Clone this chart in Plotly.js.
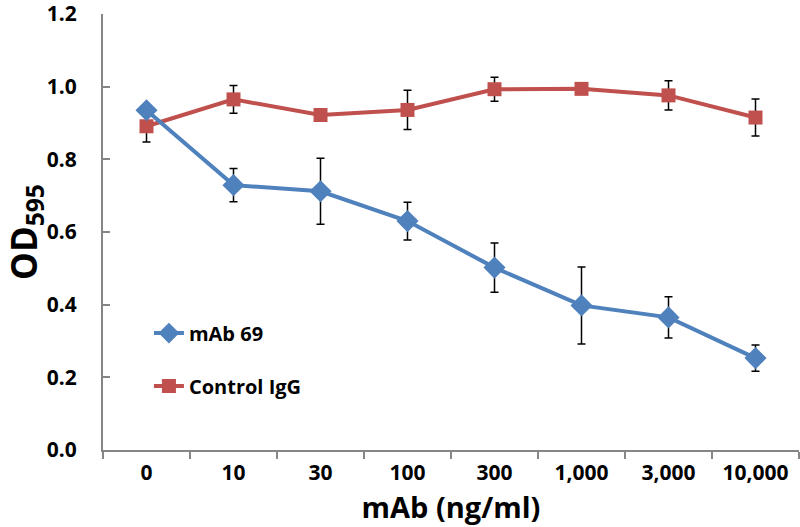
<!DOCTYPE html>
<html>
<head>
<meta charset="utf-8">
<script src="https://cdn.plot.ly/plotly-3.0.1.min.js"></script>
<style>html,body{margin:0;padding:0;background:#fff;}#chart{width:800px;height:527px;}</style>
</head>
<body>
<div id="chart"></div>
<script>
const categories = ["0", "10", "30", "100", "300", "1,000", "3,000", "10,000"];
const mab69 = [0.935, 0.729, 0.712, 0.630, 0.502, 0.398, 0.365, 0.253];
const mab69Err = [0.01, 0.046, 0.091, 0.052, 0.068, 0.106, 0.057, 0.036];
const controlIgG = [0.891, 0.965, 0.922, 0.936, 0.993, 0.994, 0.976, 0.915];
const controlErr = [0.043, 0.038, 0.012, 0.054, 0.033, 0.01, 0.040, 0.051];
const yTicks = [0, 0.2, 0.4, 0.6, 0.8, 1.0, 1.2];

const fam = "Open Sans, Liberation Sans, sans-serif";
const axisGrey = "#868686";

const data = [
  {
    x: categories, y: controlIgG, name: "Control IgG", type: "scatter", mode: "lines+markers",
    legendgroup: "control", legendrank: 2,
    line: {color: "#C0504D", width: 4},
    marker: {symbol: "square", size: 14, color: "#C0504D"},
    error_y: {type: "data", array: controlErr, visible: true, color: "#000", thickness: 1.5, width: 4}
  },
  {
    x: categories, y: mab69, name: "mAb 69", type: "scatter", mode: "lines+markers",
    legendgroup: "mab", legendrank: 1,
    line: {color: "#4F81BD", width: 4},
    marker: {symbol: "diamond", size: 17, color: "#4F81BD"},
    error_y: {type: "data", array: mab69Err, visible: true, color: "#000", thickness: 1.5, width: 4}
  }
];

const layout = {
  width: 800, height: 527,
  margin: {l: 103, r: 1, t: 14, b: 77},
  paper_bgcolor: "#fff", plot_bgcolor: "#fff",
  font: {family: fam, size: 20, color: "#000", weight: "bold"},
  showlegend: true,
  legend: {
    x: 0.066, y: 0.313, xanchor: "left", yanchor: "top",
    bgcolor: "rgba(0,0,0,0)", traceorder: "grouped", tracegroupgap: 24,
    font: {family: fam, size: 20, color: "#000", weight: "bold"}
  },
  xaxis: {
    type: "category", range: [-0.5, 7.5],
    showline: true, linecolor: axisGrey, linewidth: 2,
    ticks: "outside", ticklen: 7, tickcolor: axisGrey, tickwidth: 2,
    tickson: "boundaries", showgrid: false, zeroline: false,
    tickfont: {family: fam, size: 21, color: "#000", weight: "bold"},
    ticklabelstandoff: 3,
    title: {text: "mAb (ng/ml)", font: {family: fam, size: 29, color: "#000", weight: "bold"}, standoff: 12}
  },
  yaxis: {
    range: [0, 1.2], tickvals: yTicks, tickformat: ".1f",
    showline: true, linecolor: axisGrey, linewidth: 2,
    ticks: "inside", ticklen: 7, tickcolor: axisGrey, tickwidth: 2,
    showgrid: false, zeroline: false, ticklabeloverflow: "allow",
    tickfont: {family: fam, size: 21, color: "#000", weight: "bold"},
    ticklabelstandoff: 20,
    title: {text: "OD<sub>595</sub>", font: {family: fam, size: 35, color: "#000", weight: "bold"}, standoff: 24}
  }
};

Plotly.newPlot("chart", data, layout, {displayModeBar: false, staticPlot: true});
</script>
</body>
</html>
